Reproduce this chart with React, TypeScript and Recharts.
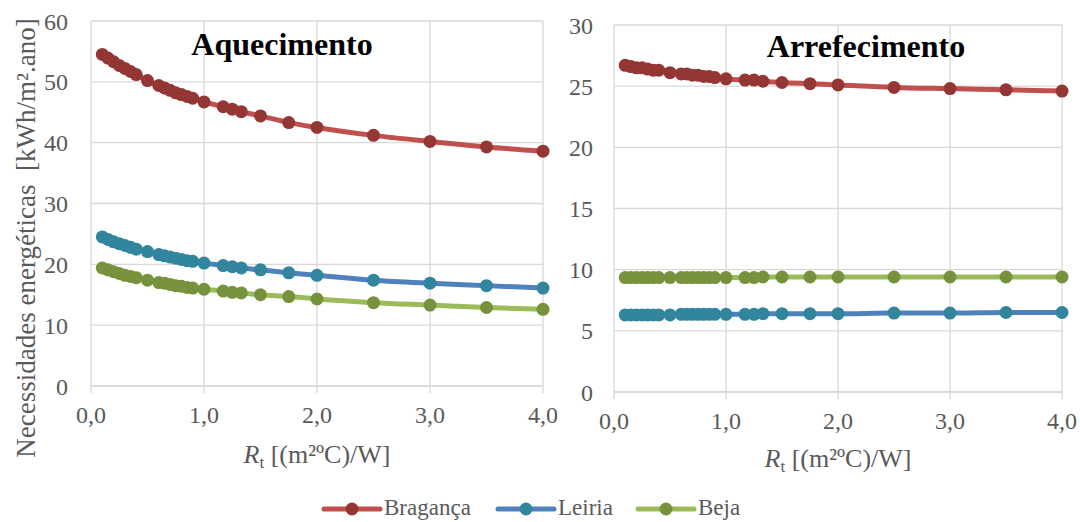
import { LineChart, Line, XAxis, YAxis, CartesianGrid } from 'recharts';

// thermal resistance values (x axis)
const rtValues = [
  0.1, 0.15, 0.2, 0.25, 0.3, 0.35, 0.4, 0.5, 0.6, 0.65, 0.7, 0.75, 0.8, 0.85, 0.9,
  1.0, 1.17, 1.25, 1.33, 1.5, 1.75, 2.0, 2.5, 3.0, 3.5, 4.0,
];

// heating needs (Aquecimento)
const heatingBraganca = [
  54.5, 53.9, 53.3, 52.7, 52.2, 51.7, 51.2, 50.2, 49.4, 49.0, 48.6, 48.2, 47.9, 47.6, 47.3,
  46.7, 45.9, 45.5, 45.1, 44.4, 43.3, 42.5, 41.2, 40.2, 39.3, 38.6,
];
const heatingLeiria = [
  24.5, 24.1, 23.7, 23.4, 23.1, 22.8, 22.5, 22.1, 21.6, 21.4, 21.2, 21.0, 20.8, 20.6, 20.5,
  20.2, 19.8, 19.6, 19.4, 19.1, 18.6, 18.2, 17.4, 16.9, 16.5, 16.1,
];
const heatingBeja = [
  19.4, 19.1, 18.8, 18.5, 18.2, 18.0, 17.8, 17.4, 17.0, 16.9, 16.7, 16.5, 16.4, 16.2, 16.1,
  15.9, 15.6, 15.4, 15.3, 15.0, 14.7, 14.3, 13.7, 13.3, 12.9, 12.6,
];

// cooling needs (Arrefecimento)
const coolingBraganca = [
  26.7, 26.6, 26.5, 26.5, 26.4, 26.3, 26.3, 26.1, 26.0, 26.0, 25.9, 25.9, 25.8, 25.8, 25.7,
  25.6, 25.5, 25.5, 25.4, 25.3, 25.2, 25.1, 24.9, 24.8, 24.7, 24.6,
];
const coolingLeiria = [
  6.3, 6.3, 6.3, 6.3, 6.3, 6.3, 6.3, 6.3, 6.35, 6.35, 6.35, 6.35, 6.35, 6.35, 6.35,
  6.35, 6.35, 6.35, 6.4, 6.4, 6.4, 6.4, 6.45, 6.45, 6.5, 6.5,
];
const coolingBeja = [
  9.35, 9.35, 9.35, 9.35, 9.35, 9.35, 9.35, 9.35, 9.35, 9.35, 9.35, 9.35, 9.35, 9.35, 9.35,
  9.35, 9.35, 9.35, 9.4, 9.4, 9.4, 9.4, 9.4, 9.4, 9.4, 9.4,
];

const xTicks = [0, 1, 2, 3, 4];
const heatingTicks = [0, 10, 20, 30, 40, 50, 60];
const coolingTicks = [0, 5, 10, 15, 20, 25, 30];

const cities = [
  { key: 'braganca', name: 'Bragança', line: '#C0504D', marker: '#943634' },
  { key: 'leiria', name: 'Leiria', line: '#4F81BD', marker: '#31859C' },
  { key: 'beja', name: 'Beja', line: '#9BBB59', marker: '#76923C' },
];

const heatingData = rtValues.map((rt, i) => ({
  rt,
  braganca: heatingBraganca[i],
  leiria: heatingLeiria[i],
  beja: heatingBeja[i],
}));

const coolingData = rtValues.map((rt, i) => ({
  rt,
  braganca: coolingBraganca[i],
  leiria: coolingLeiria[i],
  beja: coolingBeja[i],
}));

const serif = "'Liberation Serif', 'Times New Roman', serif";
const grey = '#595959';
const gridColor = '#d9d9d9';
const tickStyle = { fontFamily: serif, fontSize: 24, fill: grey };

const fmt = (v: number) => v.toFixed(1).replace('.', ',');

function Panel({ data, yTicks, yMax, width, height, margin, yWidth, yMargin }: any) {
  return (
    <LineChart width={width} height={height} data={data} margin={margin}>
      <CartesianGrid stroke={gridColor} strokeWidth={1.3} />
      <XAxis
        dataKey="rt"
        type="number"
        domain={[0, 4]}
        ticks={xTicks}
        interval={0}
        tickFormatter={fmt}
        height={50}
        tick={tickStyle}
        tickSize={7}
        tickMargin={13}
        stroke={gridColor}
        strokeWidth={1.3}
      />
      <YAxis
        type="number"
        domain={[0, yMax]}
        ticks={yTicks}
        interval={0}
        width={yWidth}
        tick={tickStyle}
        tickSize={0}
        tickMargin={yMargin}
        axisLine={false}
        tickLine={false}
      />
      {cities.map((c) => (
        <Line
          key={c.key}
          dataKey={c.key}
          name={c.name}
          type="monotone"
          stroke={c.line}
          strokeWidth={5}
          dot={{ r: 6.5, fill: c.marker, stroke: c.marker, strokeWidth: 0 }}
          isAnimationActive={false}
        />
      ))}
    </LineChart>
  );
}

const legendItems = [
  { x: 324, ...cities[0] },
  { x: 498, ...cities[1] },
  { x: 638, ...cities[2] },
];

export default function App() {
  return (
    <div style={{ position: 'absolute', left: 0, top: 0, width: 1080, height: 522, background: '#fff', overflow: 'hidden' }}>
      <div style={{ position: 'absolute', left: 0, top: 0 }}>
        <Panel
          data={heatingData}
          yTicks={heatingTicks}
          yMax={60}
          width={560}
          height={436}
          margin={{ top: 21, right: 17, bottom: 0, left: 0 }}
          yWidth={91}
          yMargin={23}
        />
      </div>
      <div style={{ position: 'absolute', left: 560, top: 0 }}>
        <Panel
          data={coolingData}
          yTicks={coolingTicks}
          yMax={30}
          width={520}
          height={442}
          margin={{ top: 25, right: 18, bottom: 0, left: 0 }}
          yWidth={54}
          yMargin={21}
        />
      </div>
      <svg width={1080} height={522} style={{ position: 'absolute', left: 0, top: 0, pointerEvents: 'none' }}>
        <text x={282} y={55} textAnchor="middle" fontFamily={serif} fontWeight="bold" fontSize={32} fill="#000">
          Aquecimento
        </text>
        <text x={866} y={57} textAnchor="middle" fontFamily={serif} fontWeight="bold" fontSize={32} fill="#000">
          Arrefecimento
        </text>
        <text
          transform="translate(35,238) rotate(-90)"
          textAnchor="middle"
          fontFamily={serif}
          fontSize={27}
          fill={grey}
          style={{ whiteSpace: 'pre' }}
        >
          {'Necessidades energéticas  [kWh/m².ano]'}
        </text>
        {[
          { x: 317, y: 463 },
          { x: 838, y: 467 },
        ].map((p, i) => (
          <text key={i} x={p.x} y={p.y} textAnchor="middle" fontFamily={serif} fontSize={26} fill={grey}>
            <tspan fontStyle="italic">R</tspan>
            <tspan fontSize={17} dy={5}>t</tspan>
            <tspan dy={-5}> [(m²ºC)/W]</tspan>
          </text>
        ))}
        {legendItems.map((it) => (
          <g key={it.key}>
            <line x1={it.x} x2={it.x + 56} y1={509} y2={509} stroke={it.line} strokeWidth={5} strokeLinecap="round" />
            <circle cx={it.x + 28} cy={509} r={6.5} fill={it.marker} />
            <text x={it.x + 60} y={515} fontFamily={serif} fontSize={23} fill={grey}>
              {it.name}
            </text>
          </g>
        ))}
      </svg>
    </div>
  );
}
